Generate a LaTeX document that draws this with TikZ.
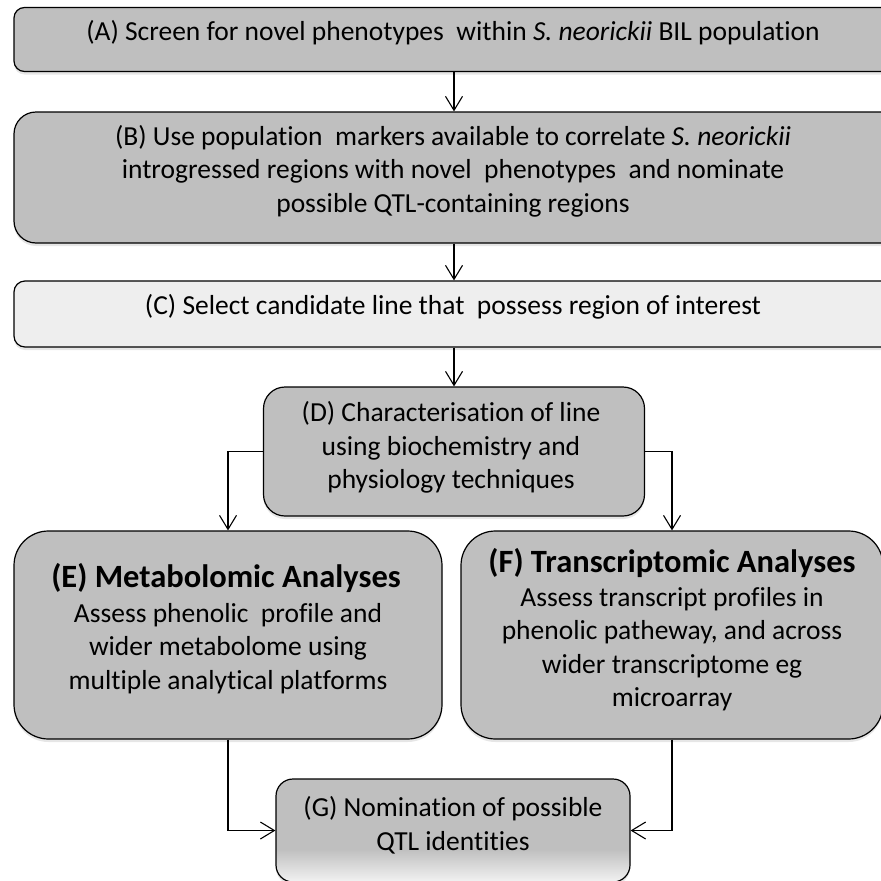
\documentclass[tikz,border=0pt]{standalone}
\usepackage{fontspec}
\setmainfont{Carlito}[Ligatures=NoCommon]
\usepackage{tikz}
\usetikzlibrary{positioning}
\usetikzlibrary{arrows.meta,shadows}
\definecolor{boxgrey}{HTML}{BFBFBF}
\definecolor{palegrey}{HTML}{EEEEEE}
\pgfdeclareverticalshading{greyfade}{100bp}{color(0bp)=(white!80!boxgrey); color(25bp)=(white!80!boxgrey); color(41bp)=(boxgrey); color(100bp)=(boxgrey)}

\begin{document}
\begin{tikzpicture}[x=1pt, y=-1pt,
  stagebox/.style = {shape=rectangle, draw, line width=1.2pt, fill=boxgrey,
    inner sep=0pt, drop shadow={shadow xshift=0pt, shadow yshift=-3pt, opacity=0.2}},
  stagetext/.style = {align=center, inner sep=0pt, font=\fontsize{27.5}{33.5}\selectfont},
  stagetitle/.style = {inner sep=0pt, font=\fontsize{32.5}{38}\selectfont\bfseries},
  flow/.style = {draw, line width=1.1pt, -{Straight Barb[length=14pt,width=17pt]}}
  ]
  \clip (0,0) rectangle (881,881);
  % boxes
  \node[stagebox, minimum width=946pt, minimum height=64pt, rounded corners=10.5pt] (A) at (487,39.5) {};
  \node[stagebox, minimum width=946pt, minimum height=131pt, rounded corners=22pt] (B) at (487,177.5) {};
  \node[stagebox, fill=palegrey, minimum width=946pt, minimum height=66pt, rounded corners=11pt] (C) at (487,314) {};
  \node[stagebox, minimum width=381pt, minimum height=129pt, rounded corners=21.5pt] (D) at (454,451.5) {};
  \node[stagebox, minimum width=428pt, minimum height=208pt, rounded corners=34.5pt] (E) at (228,635) {};
  \node[stagebox, minimum width=422pt, minimum height=208pt, rounded corners=34.5pt] (F) at (672,635) {};
  \node[stagebox, shading=greyfade, minimum width=354pt, minimum height=103pt, rounded corners=17pt] (G) at (453,830.5) {};
  % texts
  \node[stagetext] (A-text) at (453,33) {(A) Screen for novel phenotypes\ \ within \textit{S. neorickii} BIL population};
  \node[stagetext] (B-text) at (453,171) {(B) Use population\ \ markers available to correlate \textit{S. neorickii}\\ introgressed regions with novel\ \ phenotypes\ \ and nominate\\ possible QTL-containing regions};
  \node[stagetext] (C-text) at (453,307) {(C) Select candidate line that\ \ possess region of interest};
  \node[stagetext] (D-text) at (451,447.5) {(D) Characterisation of line\\ using biochemistry and\\ physiology techniques};
  \node[stagetitle] (E-title) at (226,578) {(E) Metabolomic Analyses};
  \node[stagetext] (E-text) at (228,648.5) {Assess phenolic\ \ profile and\\ wider metabolome using\\ multiple analytical platforms};
  \node[stagetitle] (F-title) at (672,563) {(F) Transcriptomic Analyses};
  \node[stagetext] (F-text) at (672,649) {Assess transcript profiles in\\ phenolic patheway, and across\\ wider transcriptome eg\\ microarray};
  \node[stagetext] (G-text) at (453,825.5) {(G) Nomination of possible\\ QTL identities};
  % arrows
  \draw[flow] (A.south -| D.north) -- (B.north -| D.north);
  \draw[flow] (B.south -| D.north) -- (C.north -| D.north);
  \draw[flow] (C.south -| D.north) -- (D.north);
  \draw[flow] (D.west) -| (E.north);
  \draw[flow] (D.east) -| (F.north);
  \draw[flow] (E.south) |- (G.west);
  \draw[flow] (F.south) |- (G.east);
\end{tikzpicture}
\end{document}
